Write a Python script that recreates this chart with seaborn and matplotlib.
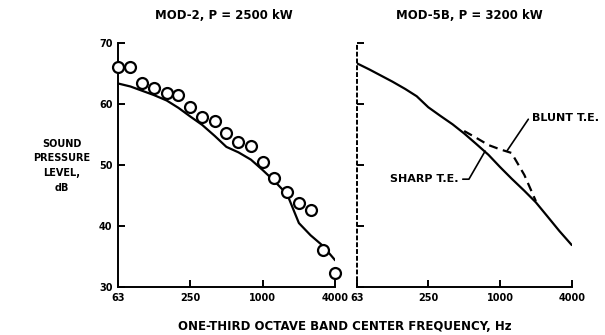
import matplotlib
matplotlib.use("Agg")
import pandas as pd
import matplotlib.pyplot as plt
import seaborn as sns

# third-octave band centre frequencies, Hz
freqs = [63, 80, 100, 125, 160, 200, 250, 315, 400, 500, 630, 800,
         1000, 1250, 1600, 2000, 2500, 3150, 4000]

# MOD-2 measured levels (circles) and predicted curve, dB
mod2_measured = [66.1, 66.1, 63.4, 62.6, 61.8, 61.5, 59.5, 57.9, 57.2, 55.2,
                 53.8, 53.1, 50.5, 47.9, 45.6, 43.8, 42.6, 36.1, 32.3]
mod2_predicted = [63.4, 62.9, 62.2, 61.5, 60.6, 59.4, 58.0, 56.6, 54.8, 53.0,
                  52.1, 50.9, 49.2, 47.4, 45.2, 40.5, 38.5, 36.8, 34.4]

# MOD-5B predictions, sharp and blunt trailing edge
mod5b_sharp = [66.7, 65.7, 64.7, 63.7, 62.5, 61.3, 59.5, 58.1, 56.7, 55.2,
               53.5, 51.7, 49.7, 47.8, 45.8, 43.9, 41.6, 39.2, 36.9]
blunt_freqs = [500, 630, 800, 1000, 1250, 1600, 2000]
mod5b_blunt = [55.6, 54.5, 53.3, 52.6, 52.0, 48.4, 44.1]

xticks = [63, 250, 1000, 4000]
xtick_labels = ["63", "250", "1000", "4000"]
yticks = [30, 40, 50, 60, 70]

df2 = pd.DataFrame({"f": freqs, "meas": mod2_measured, "pred": mod2_predicted})
df5 = pd.DataFrame({"f": freqs, "sharp": mod5b_sharp})
df5b = pd.DataFrame({"f": blunt_freqs, "blunt": mod5b_blunt})

sns.set_style("ticks", {"axes.edgecolor": "black", "text.color": "black",
                        "xtick.color": "black", "ytick.color": "black"})
plt.rcParams["font.family"] = ["DejaVu Sans"]
plt.rcParams["font.weight"] = "bold"

fig = plt.figure(figsize=(6.05, 3.35), dpi=100)
ax1 = fig.add_axes([0.195, 0.143, 0.359, 0.728])
ax2 = fig.add_axes([0.590, 0.143, 0.355, 0.728])

sns.lineplot(data=df2, x="f", y="pred", ax=ax1, color="black", lw=1.6)
sns.scatterplot(data=df2, x="f", y="meas", ax=ax1, marker="o", s=62,
                facecolor="white", edgecolor="black", linewidth=1.6,
                clip_on=False, zorder=3)

sns.lineplot(data=df5, x="f", y="sharp", ax=ax2, color="black", lw=1.6)
sns.lineplot(data=df5b, x="f", y="blunt", ax=ax2, color="black", lw=1.6,
             linestyle=(0, (4, 2.5)))

for ax in (ax1, ax2):
    ax.set_xscale("log", base=2)
    ax.set_xlim(63, 4000)
    ax.set_ylim(30, 70)
    ax.set_xticks(xticks)
    ax.set_xticklabels(xtick_labels)
    ax.minorticks_off()
    ax.set_yticks(yticks)
    ax.set_xlabel("")
    ax.set_ylabel("")
    sns.despine(ax=ax)
    for s in ("left", "bottom"):
        ax.spines[s].set_linewidth(1.4)
        ax.spines[s].set_color("black")
    ax.tick_params(direction="in", length=5, width=1.4, labelsize=7, pad=4,
                   colors="black")

ax1.set_yticklabels([str(v) for v in yticks])
ax2.set_yticklabels([])
ax2.spines["left"].set_linestyle((0, (1.5, 2)))

fig.text(0.370, 0.955, "MOD-2, P = 2500 kW", ha="center", va="center",
         fontsize=8.5, fontweight="bold", color="black")
fig.text(0.775, 0.955, "MOD-5B, P = 3200 kW", ha="center", va="center",
         fontsize=8.5, fontweight="bold", color="black")
fig.text(0.102, 0.505, "SOUND\nPRESSURE\nLEVEL,\ndB", ha="center", va="center",
         fontsize=7, fontweight="bold", linespacing=1.6, color="black")
fig.text(0.570, 0.025, "ONE-THIRD OCTAVE BAND CENTER FREQUENCY, Hz",
         ha="center", va="center", fontsize=8.5, fontweight="bold", color="black")

ax2.annotate("SHARP T.E.", xy=(750, 52.3), xytext=(445, 47.7),
             ha="right", va="center", fontsize=8, fontweight="bold", color="black",
             arrowprops=dict(arrowstyle="-", color="black", lw=1.2,
                             relpos=(1, 0.5), shrinkA=1, shrinkB=0,
                             connectionstyle="angle,angleA=0,angleB=60,rad=0"))
ax2.annotate("BLUNT T.E.", xy=(1150, 52.4), xytext=(1870, 57.8),
             ha="left", va="center", fontsize=8, fontweight="bold", color="black",
             arrowprops=dict(arrowstyle="-", color="black", lw=1.2,
                             relpos=(0, 0.5), shrinkA=1, shrinkB=0,
                             connectionstyle="angle,angleA=0,angleB=56,rad=0"),
             annotation_clip=False)

fig.savefig("out.png", dpi=100)
